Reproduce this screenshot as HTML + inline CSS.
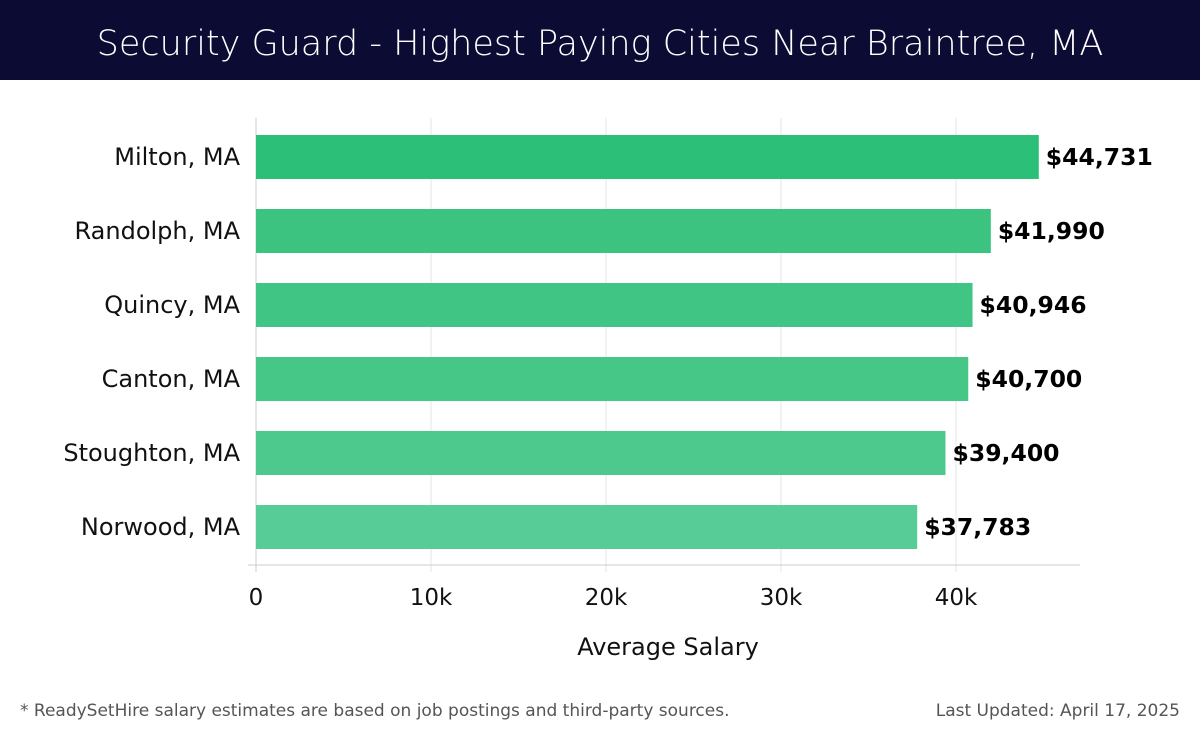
<!DOCTYPE html>
<html><head><meta charset="utf-8"><style>
body{margin:0;width:1200px;height:740px;background:#fff;font-family:"DejaVu Sans","Liberation Sans",sans-serif;overflow:hidden}
#hdr{position:absolute;left:0;top:0;width:1200px;height:80px;background:#0b0b33;color:#fff;font-size:35px;text-align:center;line-height:88px;font-weight:300}
.foot{position:absolute;top:701px;font-size:17px;color:#555}
svg text{font-family:"DejaVu Sans","Liberation Sans",sans-serif}
</style></head><body>
<div id="hdr">Security Guard - Highest Paying Cities Near Braintree, MA</div>
<svg id="chart" width="1200" height="740" style="position:absolute;left:0;top:0"></svg>
<div class="foot" style="left:20px">* ReadySetHire salary estimates are based on job postings and third-party sources.</div>
<div class="foot" style="right:20px">Last Updated: April 17, 2025</div>
<script>
const cities=["Milton, MA","Randolph, MA","Quincy, MA","Canton, MA","Stoughton, MA","Norwood, MA"];
const salaries=[44731,41990,40946,40700,39400,37783];
const labels=["$44,731","$41,990","$40,946","$40,700","$39,400","$37,783"];
const ticks=[0,10000,20000,30000,40000];
const tickLabels=["0","10k","20k","30k","40k"];
const colors=["#2bbf77","#3bc37f","#41c584","#46c687","#4ec98d","#57cc97"];
const svg=document.getElementById('chart');const NS="http://www.w3.org/2000/svg";
const x0=256,pxPer=700/40000,top0=120,step=74,bh=44,bottom=565;
const x=v=>x0+v*pxPer;const yc=i=>top0+37+i*step;
function mk(t,a){const e=document.createElementNS(NS,t);for(const k in a)e.setAttribute(k,a[k]);svg.appendChild(e);return e;}
ticks.forEach((t,i)=>{
 const g=mk('line',{x1:x(t),x2:x(t),y1:118,y2:572,stroke:i==0?'#ccc':'#e4e4e4','stroke-width':1});
 
 
 const l=mk('text',{x:x(t),y:605,'font-size':23,'text-anchor':'middle',fill:'#111'});l.textContent=tickLabels[i];
 
 
});
const ax=mk('line',{x1:248,x2:1080,y1:bottom,y2:bottom,stroke:'#ccc'});


salaries.forEach((v,i)=>{
 const r=mk('rect',{x:x0,y:yc(i)-bh/2,width:x(v)-x0,height:bh,fill:colors[i]});
 
 
 const c=mk('text',{x:240,y:yc(i)+8,'font-size':24,'text-anchor':'end',fill:'#111'});c.textContent=cities[i];
 
 
 const t=mk('text',{x:x(v)+7,y:yc(i)+8,'font-size':23.5,'font-weight':'bold',fill:'#000'});t.textContent=labels[i];
 
 
});
const at=mk('text',{x:668,y:655,'font-size':24,'text-anchor':'middle',fill:'#111'});at.textContent='Average Salary';


</script>
</body></html>
